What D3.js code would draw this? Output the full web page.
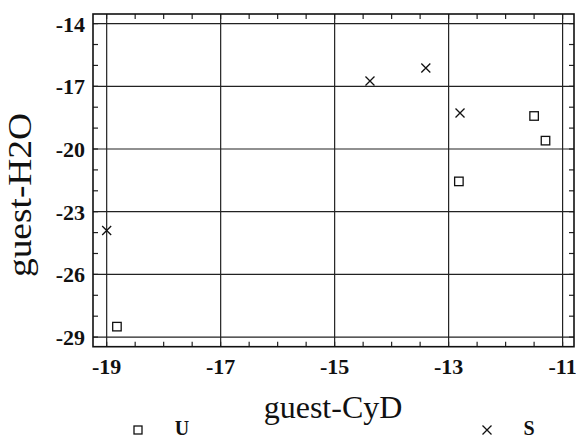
<!DOCTYPE html>
<html>
<head>
<meta charset="utf-8">
<script src="https://cdn.jsdelivr.net/npm/d3@7"></script>
<style>
  body { margin: 0; background: #fff; }
  svg text { font-family: "Liberation Serif", "DejaVu Serif", serif; fill: #111; }
</style>
</head>
<body>
<div id="chart"></div>
<script>
const width = 576, height = 439;

// data
const uPoints = [[-18.82, -28.5], [-12.82, -21.55], [-11.5, -18.42], [-11.3, -19.6]];
const sPoints = [[-19.0, -23.9], [-14.38, -16.75], [-13.4, -16.12], [-12.8, -18.28]];
const xTicks = [-19, -17, -15, -13, -11];
const yTicks = [-14, -17, -20, -23, -26, -29];
const xLabel = "guest-CyD", yLabel = "guest-H2O";
const legendNames = ["U", "S"];

const svg = d3.select("#chart").append("svg")
    .attr("width", width).attr("height", height);

const x = d3.scaleLinear().domain([-19.24, -10.8]).range([93, 574]);
const y = d3.scaleLinear().domain([-29.46, -13.54]).range([346.7, 14]);

const [x0, x1] = x.range(), [y0, y1] = y.range();

// grid lines
svg.append("g").selectAll("line").data(xTicks).join("line")
    .attr("x1", d => x(d)).attr("x2", d => x(d))
    .attr("y1", y1).attr("y2", y0)
    .attr("stroke", "#222").attr("stroke-width", 1.2);
svg.append("g").selectAll("line").data(yTicks).join("line")
    .attr("y1", d => y(d)).attr("y2", d => y(d))
    .attr("x1", x0).attr("x2", x1)
    .attr("stroke", "#222").attr("stroke-width", 1.2);

// minor ticks, pointing inward on all four sides
const xMinor = d3.range(-19, -10.99, 0.5);
const yMinor = d3.range(-29, -13.99, 1);
const tk = 5;
const ticks = svg.append("g").attr("stroke", "#222").attr("stroke-width", 1.2);
ticks.selectAll(".tb").data(xMinor).join("line").attr("class", "tb")
    .attr("x1", d => x(d)).attr("x2", d => x(d)).attr("y1", y0).attr("y2", y0 - tk);
ticks.selectAll(".tt").data(xMinor).join("line").attr("class", "tt")
    .attr("x1", d => x(d)).attr("x2", d => x(d)).attr("y1", y1).attr("y2", y1 + tk);
ticks.selectAll(".tl").data(yMinor).join("line").attr("class", "tl")
    .attr("y1", d => y(d)).attr("y2", d => y(d)).attr("x1", x0).attr("x2", x0 + tk);
ticks.selectAll(".tr").data(yMinor).join("line").attr("class", "tr")
    .attr("y1", d => y(d)).attr("y2", d => y(d)).attr("x1", x1).attr("x2", x1 - tk);

// frame
svg.append("rect")
    .attr("x", x0).attr("y", y1).attr("width", x1 - x0).attr("height", y0 - y1)
    .attr("fill", "none").attr("stroke", "#111").attr("stroke-width", 1.6);

// tick labels
svg.append("g").selectAll("text").data(xTicks).join("text")
    .attr("x", d => x(d)).attr("y", 374)
    .attr("text-anchor", "middle").attr("font-size", 22).attr("font-weight", "bold")
    .text(d => d);
svg.append("g").selectAll("text").data(yTicks).join("text")
    .attr("x", 85).attr("y", d => y(d) + 8)
    .attr("text-anchor", "end").attr("font-size", 22).attr("font-weight", "bold")
    .text(d => d);

// axis titles
svg.append("text")
    .attr("x", 333).attr("y", 418)
    .attr("text-anchor", "middle").attr("font-size", 32)
    .text(xLabel);
svg.append("text")
    .attr("transform", "translate(31,195) rotate(-90)")
    .attr("text-anchor", "middle").attr("font-size", 34)
    .attr("textLength", 164).attr("lengthAdjust", "spacingAndGlyphs")
    .text(yLabel);

// markers
const sq = 8.5, cr = 4.5;
function square(g, cx, cy, s) {
    g.append("rect").attr("x", cx - s / 2).attr("y", cy - s / 2)
        .attr("width", s).attr("height", s)
        .attr("fill", "none").attr("stroke", "#111").attr("stroke-width", 1.3);
}
function cross(g, cx, cy, r) {
    g.append("path")
        .attr("d", `M${cx - r},${cy - r}L${cx + r},${cy + r}M${cx - r},${cy + r}L${cx + r},${cy - r}`)
        .attr("stroke", "#111").attr("stroke-width", 1.3).attr("fill", "none");
}
const marks = svg.append("g");
uPoints.forEach(d => square(marks, x(d[0]), y(d[1]), sq));
sPoints.forEach(d => cross(marks, x(d[0]), y(d[1]), cr));

// legend
const legend = svg.append("g");
square(legend, 138, 430, 8);
cross(legend, 487, 430, 4.5);
legend.append("text").attr("x", 182).attr("y", 435).attr("text-anchor", "middle")
    .attr("font-size", 20).attr("font-weight", "bold").text(legendNames[0]);
legend.append("text").attr("x", 529).attr("y", 435).attr("text-anchor", "middle")
    .attr("font-size", 20).attr("font-weight", "bold").text(legendNames[1]);
</script>
</body>
</html>
